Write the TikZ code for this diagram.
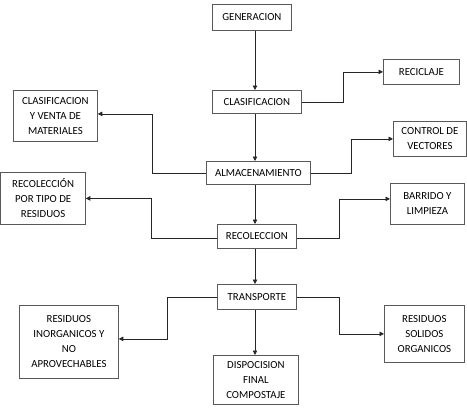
\documentclass[tikz,border=0pt]{standalone}
\usepackage{fontspec}
\setmainfont{Carlito}
\usetikzlibrary{arrows.meta}
\begin{document}
\begin{tikzpicture}[x=1pt,y=-1pt,
  box/.style={draw=black!65,line width=0.8pt,rectangle,inner sep=0pt,align=center,anchor=north west,
    font=\fontsize{10.8}{15}\selectfont},
  conn/.style={draw=black!85,line width=0.8pt,-{Triangle[length=4.5pt,width=4.5pt]}}]
\useasboundingbox (0,0) rectangle (467,416);
\newcommand{\bx}[6]{\node[box,minimum width={(#4-#2)*1pt},minimum height={(#5-#3)*1pt}] (#1) at (#2,#3) {#6};}
\bx{gen}{212}{4}{291}{30}{GENERACION}
\bx{clas}{212}{90}{301}{113}{CLASIFICACION}
\bx{alm}{206}{161}{310}{184}{ALMACENAMIENTO}
\bx{reco}{217}{224}{296}{248}{RECOLECCION}
\bx{trans}{217}{284}{296}{309}{TRANSPORTE}
\bx{disp}{213}{355}{298}{404}{DISPOCISION\\FINAL\\COMPOSTAJE}
\bx{recic}{383}{59}{459}{84}{RECICLAJE}
\bx{ctrl}{393}{121}{466}{156}{CONTROL DE\\VECTORES}
\bx{barr}{390}{183}{464}{224}{BARRIDO Y\\LIMPIEZA}
\bx{sol}{384}{305}{464}{362}{RESIDUOS\\SOLIDOS\\ORGANICOS}
\bx{venta}{13}{90}{97}{141}{CLASIFICACION\\Y VENTA DE\\MATERIALES}
\bx{tipo}{0.5}{172}{85}{224}{RECOLECCIÓN\\POR TIPO DE\\RESIDUOS}
\bx{inorg}{19}{305}{118}{378}{RESIDUOS\\INORGANICOS Y\\NO\\APROVECHABLES}
\coordinate (col) at (255,0);
\coordinate (b1) at (343,0);
\coordinate (b2) at (351,0);
\coordinate (b3) at (339,0);
\coordinate (b4) at (152,0);
\coordinate (b5) at (151,0);
\coordinate (b6) at (167,0);
\draw[conn] (gen.south -| col) -- (clas.north -| col);
\draw[conn] (clas.south -| col) -- (alm.north -| col);
\draw[conn] (alm.south -| col) -- (reco.north -| col);
\draw[conn] (reco.south -| col) -- (trans.north -| col);
\draw[conn] (trans.south -| col) -- (disp.north -| col);
\draw[conn] (clas.east) -- (clas.east -| b1) |- (recic.west);
\draw[conn] (alm.east) -- (alm.east -| b2) |- (ctrl.west);
\draw[conn] ([yshift=-2pt]reco.east) -- ([yshift=-2pt]reco.east -| b3) |- ([yshift=5pt]barr.west);
\draw[conn] (trans.east) -- (trans.east -| b3) |- (sol.west);
\draw[conn] (alm.west) -- (alm.west -| b4) |- ([yshift=2pt]venta.east);
\draw[conn] ([yshift=-2pt]reco.west) -- ([yshift=-2pt]reco.west -| b5) |- (tipo.east);
\draw[conn] (trans.west) -- (trans.west -| b6) |- ([yshift=3pt]inorg.east);
\end{tikzpicture}
\end{document}
